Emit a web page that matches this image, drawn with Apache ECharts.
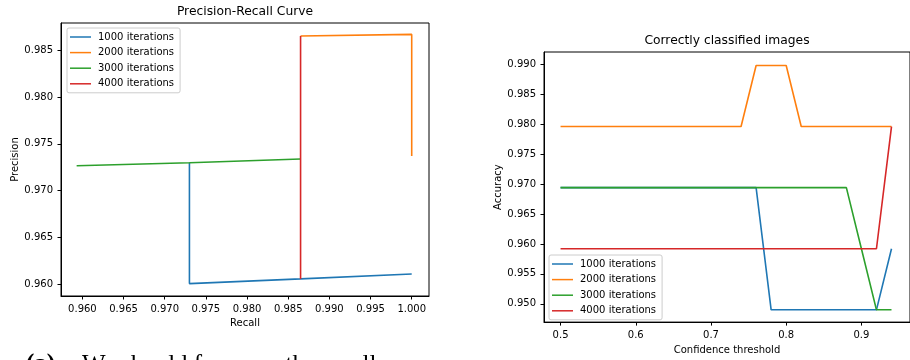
<!DOCTYPE html>
<html>
<head>
<meta charset="utf-8">
<script src="https://cdn.jsdelivr.net/npm/echarts@6/dist/echarts.min.js"></script>
<style>
  html, body { margin: 0; padding: 0; background: #fff; }
  #chart { width: 910px; height: 360px; }
</style>
</head>
<body>
<div id="chart"></div>
<script>
// series names / colours (matplotlib tab10)
const seriesNames = ["1000 iterations", "2000 iterations", "3000 iterations", "4000 iterations"];
const colors = ["#1f77b4", "#ff7f0e", "#2ca02c", "#d62728"];

// left panel: precision-recall points
const recall1000 = [0.9730, 0.9730, 0.9865, 1.0000];
const precision1000 = [0.97298, 0.96004, 0.96054, 0.96107];
const recall2000 = [0.9865, 1.0000, 1.0000];
const precision2000 = [0.98655, 0.98672, 0.97370];
const recall3000 = [0.9593, 0.9730, 0.9865];
const precision3000 = [0.97266, 0.97298, 0.97338];
const recall4000 = [0.9865, 0.9865];
const precision4000 = [0.98655, 0.96054];

const recallTicks = [0.960, 0.965, 0.970, 0.975, 0.980, 0.985, 0.990, 0.995, 1.000];
const precisionTicks = [0.960, 0.965, 0.970, 0.975, 0.980, 0.985];

// right panel: accuracy vs confidence threshold
const thresholds = [0.50, 0.52, 0.54, 0.56, 0.58, 0.60, 0.62, 0.64, 0.66, 0.68, 0.70, 0.72,
  0.74, 0.76, 0.78, 0.80, 0.82, 0.84, 0.86, 0.88, 0.90, 0.92, 0.94];
const acc1000 = [0.9694, 0.9694, 0.9694, 0.9694, 0.9694, 0.9694, 0.9694, 0.9694, 0.9694, 0.9694, 0.9694, 0.9694,
  0.9694, 0.9694, 0.9490, 0.9490, 0.9490, 0.9490, 0.9490, 0.9490, 0.9490, 0.9490, 0.9592];
const acc2000 = [0.9796, 0.9796, 0.9796, 0.9796, 0.9796, 0.9796, 0.9796, 0.9796, 0.9796, 0.9796, 0.9796, 0.9796,
  0.9796, 0.9898, 0.9898, 0.9898, 0.9796, 0.9796, 0.9796, 0.9796, 0.9796, 0.9796, 0.9796];
const acc3000 = [0.9694, 0.9694, 0.9694, 0.9694, 0.9694, 0.9694, 0.9694, 0.9694, 0.9694, 0.9694, 0.9694, 0.9694,
  0.9694, 0.9694, 0.9694, 0.9694, 0.9694, 0.9694, 0.9694, 0.9694, 0.9592, 0.9490, 0.9490];
const acc4000 = [0.9592, 0.9592, 0.9592, 0.9592, 0.9592, 0.9592, 0.9592, 0.9592, 0.9592, 0.9592, 0.9592, 0.9592,
  0.9592, 0.9592, 0.9592, 0.9592, 0.9592, 0.9592, 0.9592, 0.9592, 0.9592, 0.9592, 0.9796];

const thresholdTicks = [0.5, 0.6, 0.7, 0.8, 0.9];
const accuracyTicks = [0.950, 0.955, 0.960, 0.965, 0.970, 0.975, 0.980, 0.985, 0.990];

const FONT = "DejaVu Sans";

function zip(xs, ys) {
  return xs.map((x, i) => [x, ys[i]]);
}

function valueAxis(gridIndex, pos, min, max, ticks, digits, name, nameGap) {
  return {
    type: "value",
    gridIndex: gridIndex,
    position: pos,
    min: min,
    max: max,
    name: name,
    nameLocation: "middle",
    nameGap: nameGap,
    nameTextStyle: { fontFamily: FONT, fontSize: 10, color: "#000" },
    splitLine: { show: false },
    axisLine: { show: true, lineStyle: { color: "#000", width: 1 } },
    axisTick: { show: true, inside: false, length: 3.5, customValues: ticks, lineStyle: { color: "#000", width: 1 } },
    axisLabel: {
      customValues: ticks,
      margin: 8,
      fontFamily: FONT,
      fontSize: 10,
      color: "#000",
      formatter: v => v.toFixed(digits)
    }
  };
}

function lineSeries(idx, xi, data) {
  return {
    type: "line",
    name: seriesNames[idx],
    xAxisIndex: xi,
    yAxisIndex: xi,
    data: data,
    symbol: "none",
    animation: false,
    lineStyle: { color: colors[idx], width: 1.6 },
    itemStyle: { color: colors[idx] }
  };
}

function legendBox(left, top) {
  return {
    orient: "vertical",
    left: left,
    top: top,
    data: seriesNames,
    icon: "rect",
    itemWidth: 21,
    itemHeight: 1.5,
    itemGap: 3.6,
    padding: [3, 6, 3, 3],
    backgroundColor: "rgba(255,255,255,0.8)",
    borderColor: "#ccc",
    borderWidth: 1,
    borderRadius: 2,
    textStyle: { fontFamily: FONT, fontSize: 10, color: "#000", lineHeight: 12, padding: [0, 0, 0, 2] }
  };
}

const chart = echarts.init(document.getElementById("chart"), null, { renderer: "canvas" });

chart.setOption({
  backgroundColor: "#fff",
  animation: false,
  color: colors,
  grid: [
    { left: 61, top: 23, width: 368, height: 273, show: true, borderColor: "#000", borderWidth: 1, backgroundColor: "transparent" },
    { left: 544, top: 52, width: 369, height: 274, show: true, borderColor: "#000", borderWidth: 1, backgroundColor: "transparent" }
  ],
  xAxis: [
    valueAxis(0, "bottom", 0.9574, 1.0021, recallTicks, 3, "Recall", 21),
    valueAxis(1, "bottom", 0.478, 0.9646, thresholdTicks, 1, "Confidence threshold", 21)
  ],
  yAxis: [
    valueAxis(0, "left", 0.95871, 0.98794, precisionTicks, 3, "Precision", 40),
    valueAxis(1, "left", 0.94695, 0.99205, accuracyTicks, 3, "Accuracy", 40)
  ],
  legend: [legendBox(67, 28), legendBox(549, 255)],
  series: [
    lineSeries(0, 0, zip(recall1000, precision1000)),
    lineSeries(1, 0, zip(recall2000, precision2000)),
    lineSeries(2, 0, zip(recall3000, precision3000)),
    lineSeries(3, 0, zip(recall4000, precision4000)),
    lineSeries(0, 1, zip(thresholds, acc1000)),
    lineSeries(1, 1, zip(thresholds, acc2000)),
    lineSeries(2, 1, zip(thresholds, acc3000)),
    lineSeries(3, 1, zip(thresholds, acc4000))
  ],
  graphic: [
    { type: "text", x: 245, y: 12, style: { text: "Precision-Recall Curve", fontFamily: FONT, fontSize: 12.3, fill: "#000", align: "center", verticalAlign: "middle" } },
    { type: "text", x: 727, y: 41, style: { text: "Correctly classified images", fontFamily: FONT, fontSize: 12.3, fill: "#000", align: "center", verticalAlign: "middle" } },
    // caption of the page, cut off at the bottom edge
    { type: "text", x: 26, y: 352.5, style: { text: "(a)", fontFamily: "Liberation Serif", fontSize: 25, fontWeight: "bold", fill: "#000", verticalAlign: "top" } },
    { type: "text", x: 82, y: 352.5, style: { text: "We should focus on the small", fontFamily: "Liberation Serif", fontSize: 25, fill: "#000", verticalAlign: "top" } }
  ]
});
</script>
</body>
</html>
